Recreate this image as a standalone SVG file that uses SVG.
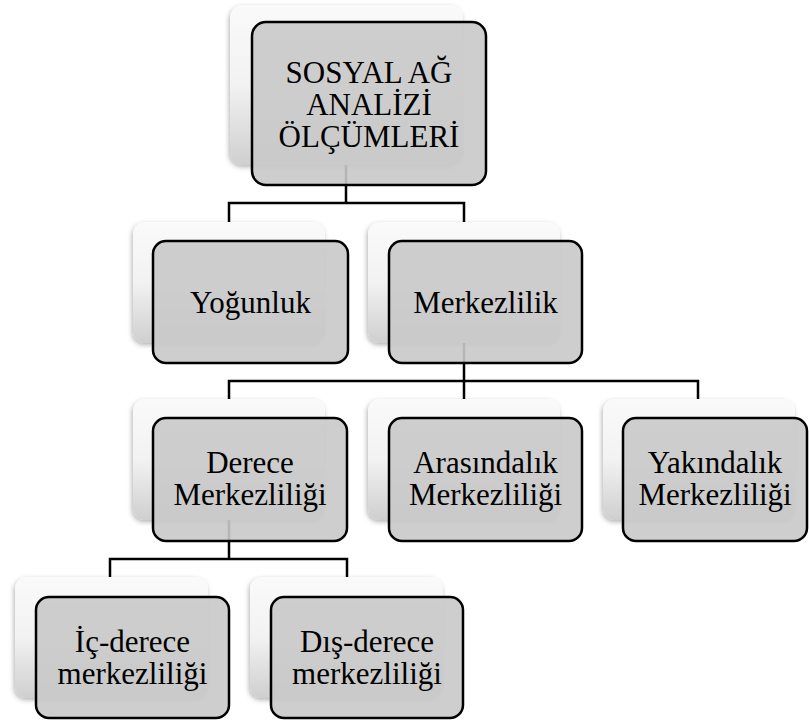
<svg xmlns="http://www.w3.org/2000/svg" width="809" height="720" viewBox="0 0 809 720">
<defs>
<linearGradient id="bg" x1="0" y1="0" x2="0" y2="1">
<stop offset="0" stop-color="#fafafa"/>
<stop offset="0.5" stop-color="#f2f2f2"/>
<stop offset="1" stop-color="#cfcfcf"/>
</linearGradient>
<filter id="sh" x="-10%" y="-10%" width="120%" height="125%">
<feDropShadow dx="-1" dy="2" stdDeviation="2.5" flood-color="#000" flood-opacity="0.3"/>
</filter>
<style>
.back{fill:url(#bg);filter:url(#sh);}
.front{fill:#c9c9c9;fill-opacity:0.9;stroke:#000;stroke-width:2.5;}
.conn{fill:none;stroke:#000;stroke-width:2.5;}
.lbl{font-family:"Liberation Serif","Times New Roman",serif;font-size:31px;fill:#000;text-anchor:middle;}
</style>
</defs>
<rect width="809" height="720" fill="#fff"/>
<g id="connectors">
<path class="conn" d="M346,165 V203 M229,222 V203 H464 V222"/>
<path class="conn" d="M464,343 V381 M229,399 V381 H698 V399 M464,381 V399"/>
<path class="conn" d="M229,520 V559 M110,577 V559 H347 V577"/>
</g>
<g id="root">
<rect class="back" x="230" y="5" width="233" height="160" rx="13"/>
<rect class="front" x="252" y="22" width="234" height="163" rx="14"/>
<text class="lbl" font-family="Liberation Serif, serif" x="369" y="83">SOSYAL AĞ</text>
<text class="lbl" font-family="Liberation Serif, serif" x="369" y="115">ANALİZİ</text>
<text class="lbl" font-family="Liberation Serif, serif" x="369" y="147">ÖLÇÜMLERİ</text>
</g>
<g id="yogunluk">
<rect class="back" x="133" y="222" width="192" height="121" rx="12"/>
<rect class="front" x="153" y="241" width="195" height="122" rx="13"/>
<text class="lbl" font-family="Liberation Serif, serif" x="250.5" y="313">Yoğunluk</text>
</g>
<g id="merkezlilik">
<rect class="back" x="368" y="222" width="192" height="121" rx="12"/>
<rect class="front" x="389" y="241" width="193" height="122" rx="13"/>
<text class="lbl" font-family="Liberation Serif, serif" x="485.5" y="313">Merkezlilik</text>
</g>
<g id="derece">
<rect class="back" x="133" y="399" width="192" height="121" rx="12"/>
<rect class="front" x="153" y="418" width="194" height="123" rx="13"/>
<text class="lbl" font-family="Liberation Serif, serif" x="250" y="473">Derece</text>
<text class="lbl" font-family="Liberation Serif, serif" x="250" y="505">Merkezliliği</text>
</g>
<g id="arasindalik">
<rect class="back" x="368" y="399" width="192" height="121" rx="12"/>
<rect class="front" x="389" y="418" width="193" height="123" rx="13"/>
<text class="lbl" font-family="Liberation Serif, serif" x="485.5" y="473">Arasındalık</text>
<text class="lbl" font-family="Liberation Serif, serif" x="485.5" y="505">Merkezliliği</text>
</g>
<g id="yakindalik">
<rect class="back" x="603" y="399" width="192" height="121" rx="12"/>
<rect class="front" x="623" y="418" width="184" height="123" rx="13"/>
<text class="lbl" font-family="Liberation Serif, serif" x="715" y="473">Yakındalık</text>
<text class="lbl" font-family="Liberation Serif, serif" x="715" y="505">Merkezliliği</text>
</g>
<g id="ic-derece">
<rect class="back" x="15" y="577" width="193" height="121" rx="12"/>
<rect class="front" x="36" y="597" width="193" height="121" rx="13"/>
<text class="lbl" font-family="Liberation Serif, serif" x="132.5" y="652">İç-derece</text>
<text class="lbl" font-family="Liberation Serif, serif" x="132.5" y="684">merkezliliği</text>
</g>
<g id="dis-derece">
<rect class="back" x="250" y="577" width="193" height="121" rx="12"/>
<rect class="front" x="271" y="597" width="192" height="121" rx="13"/>
<text class="lbl" font-family="Liberation Serif, serif" x="367" y="652">Dış-derece</text>
<text class="lbl" font-family="Liberation Serif, serif" x="367" y="684">merkezliliği</text>
</g>
</svg>
